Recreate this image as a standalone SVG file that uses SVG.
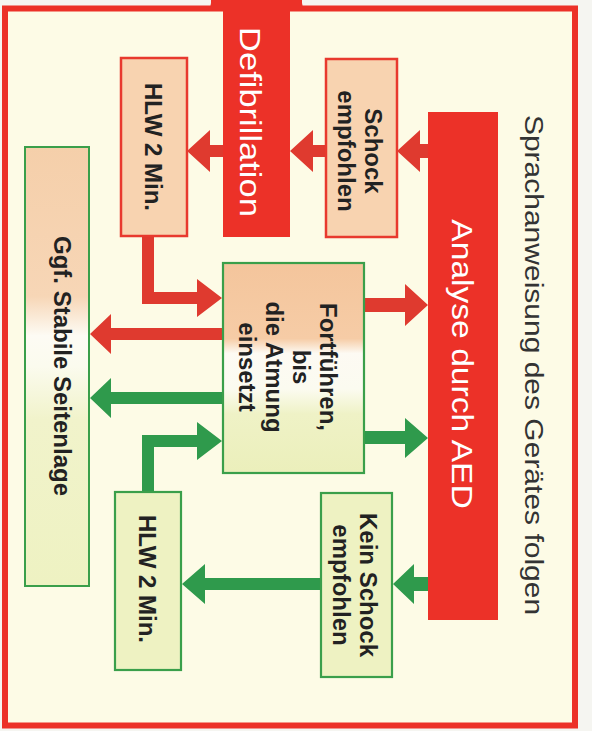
<svg xmlns="http://www.w3.org/2000/svg" width="592" height="731" viewBox="0 0 592 731">
<defs>
<linearGradient id="gGgf" x1="0" y1="0" x2="0" y2="1">
<stop offset="0" stop-color="#f5cfaa"/>
<stop offset="0.34" stop-color="#f7d6b6"/>
<stop offset="0.43" stop-color="#fdfbf4"/>
<stop offset="0.5" stop-color="#fbfbee"/>
<stop offset="0.62" stop-color="#f1f3cb"/>
<stop offset="1" stop-color="#eef2c2"/>
</linearGradient>
<linearGradient id="gFort" x1="0" y1="0" x2="0" y2="1">
<stop offset="0" stop-color="#f4c59c"/>
<stop offset="0.36" stop-color="#f6cca6"/>
<stop offset="0.43" stop-color="#fdfaf3"/>
<stop offset="0.6" stop-color="#fbfbf0"/>
<stop offset="0.72" stop-color="#eff2c6"/>
<stop offset="1" stop-color="#ebefbb"/>
</linearGradient>
<style>
.red{fill:#ec3128}
.pbox{fill:#f8d3b0;stroke:#e8392e;stroke-width:2.5}
.gbox{fill:#eef2c2;stroke:#3a9f4a;stroke-width:2.2}
.ra{fill:#df3a2f}
.ga{fill:#2f9a4c}
.w{font-family:"Liberation Sans",Arial,sans-serif;fill:#ffffff;text-anchor:middle}
.t{font-family:"Liberation Sans",Arial,sans-serif;fill:#333333;text-anchor:middle}
.b{font-family:"Liberation Sans",Arial,sans-serif;font-weight:bold;fill:#222222;text-anchor:middle;font-size:24px}
</style>
</defs>
<rect x="0" y="0" width="592" height="731" fill="#f5f5f1"/>
<g id="frame">
<rect x="5" y="8.5" width="570" height="717" fill="#fdfbe6" stroke="#ec3128" stroke-width="6"/>
<path class="red" d="M200,11 Q211,11 211,3 L211,0 L302,0 L302,3 Q302,11 313,11 Z"/>
</g>
<g id="title">
<text class="t" font-size="25" transform="translate(525,365) rotate(90) scale(1.2,1)">Sprachanweisung des Gerätes folgen</text>
</g>
<g id="connectors">
<polygon class="ra" points="397,151 420,130 420,144 428,144 428,158 420,158 420,172"/>
<polygon class="ra" points="290,151 313,130 313,145 326,145 326,157 313,157 313,172"/>
<polygon class="ra" points="187,151 210,130 210,145 223,145 223,157 210,157 210,172"/>
<polygon class="ra" points="142,236 154,236 154,292 197,292 197,279 222,298 197,317 197,304 142,304"/>
<polygon class="ra" points="428,305 405,284 405,298 364,298 364,312 405,312 405,326"/>
<polygon class="ra" points="90,334 111,314 111,328 222,328 222,340 111,340 111,354"/>
<polygon class="ga" points="90,398 111,378 111,392 222,392 222,404 111,404 111,418"/>
<polygon class="ga" points="428,438 405,418 405,431 364,431 364,444 405,444 405,458"/>
<polygon class="ga" points="142,492 154,492 154,447 197,447 197,460 222,441 197,422 197,435 142,435"/>
<polygon class="ga" points="393,584 414,564 414,577 428,577 428,591 414,591 414,604"/>
<polygon class="ga" points="182,584 205,564 205,578 321,578 321,590 205,590 205,604"/>
</g>
<g id="analyse">
<rect class="red" x="428" y="112" width="70" height="508"/>
<text class="w" font-size="30" transform="translate(452,364) rotate(90) scale(1.12,1)">Analyse durch AED</text>
</g>
<g id="defibrillation">
<rect class="red" x="223" y="0" width="67" height="237"/>
<text class="w" font-size="30" transform="translate(240,122) rotate(90) scale(1.15,1)">Defibrillation</text>
</g>
<g id="schock">
<rect class="pbox" x="326" y="59" width="71" height="178"/>
<text class="b" transform="translate(365,151) rotate(90)"><tspan x="0" y="0">Schock</tspan><tspan x="0" dy="27">empfohlen</tspan></text>
</g>
<g id="hlw-red">
<rect class="pbox" x="121" y="58" width="66" height="178"/>
<text class="b" transform="translate(145,147) rotate(90)">HLW 2 Min.</text>
</g>
<g id="fortfuehren">
<rect x="223" y="263" width="141" height="210" fill="url(#gFort)" stroke="#3a9f4a" stroke-width="2.2"/>
<text class="b" transform="translate(320,367) rotate(90)"><tspan x="0" y="0">Fortführen,</tspan><tspan x="0" dy="27">bis</tspan><tspan x="0" dy="27">die Atmung</tspan><tspan x="0" dy="27">einsetzt</tspan></text>
</g>
<g id="ggf">
<rect x="25" y="147" width="64" height="439" fill="url(#gGgf)" stroke="#3a9f4a" stroke-width="2"/>
<text class="b" transform="translate(54,366) rotate(90)">Ggf. Stabile Seitenlage</text>
</g>
<g id="kein-schock">
<rect class="gbox" x="321" y="493" width="71" height="184"/>
<text class="b" transform="translate(360,585) rotate(90)"><tspan x="0" y="0">Kein Schock</tspan><tspan x="0" dy="27">empfohlen</tspan></text>
</g>
<g id="hlw-green">
<rect class="gbox" x="115" y="492" width="66" height="178"/>
<text class="b" transform="translate(139,579) rotate(90)">HLW 2 Min.</text>
</g>
</svg>
